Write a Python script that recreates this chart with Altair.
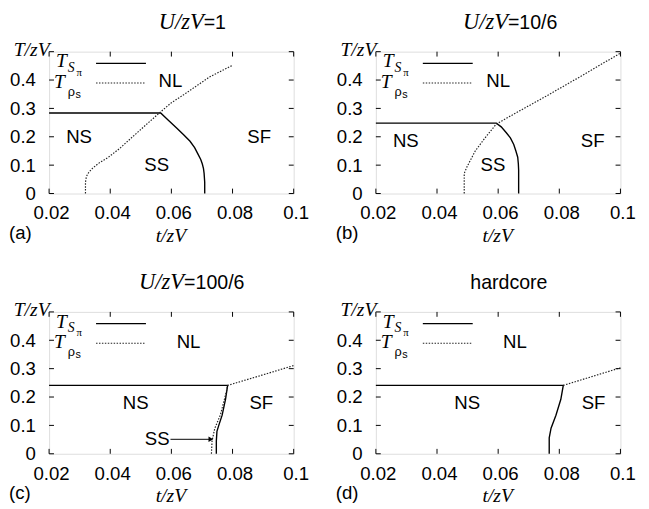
import altair as alt
import pandas as pd

# ---------------- data ----------------
# panel (a) U/zV=1
a_solid_t = [0.020, 0.0565, 0.0590, 0.0618, 0.0640, 0.0661, 0.0676, 0.0687, 0.0696, 0.0701, 0.0705, 0.0707, 0.0709, 0.0709]
a_solid_T = [0.284, 0.284, 0.258, 0.230, 0.207, 0.184, 0.162, 0.139, 0.120, 0.105, 0.088, 0.071, 0.040, 0.000]
a_dot_t = [0.0319, 0.0319, 0.0322, 0.0330, 0.0341, 0.0360, 0.0394, 0.0430, 0.0469, 0.0522, 0.0565, 0.0600, 0.0640, 0.0725, 0.0800]
a_dot_T = [0.000, 0.040, 0.060, 0.075, 0.088, 0.105, 0.128, 0.158, 0.196, 0.247, 0.288, 0.320, 0.348, 0.411, 0.452]

# panel (b) U/zV=10/6
b_solid_t = [0.020, 0.0594, 0.0610, 0.0626, 0.0640, 0.0651, 0.0658, 0.0664, 0.0666, 0.0667, 0.0667]
b_solid_T = [0.248, 0.248, 0.235, 0.215, 0.196, 0.173, 0.150, 0.128, 0.105, 0.083, 0.000]
b_dot_t = [0.0489, 0.0489, 0.0498, 0.0525, 0.0557, 0.0594, 0.0653, 0.0760, 0.0867, 0.1000]
b_dot_T = [0.000, 0.071, 0.094, 0.150, 0.196, 0.245, 0.281, 0.345, 0.411, 0.495]

# panel (c) U/zV=100/6
c_solid_t = [0.020, 0.0784, 0.0777, 0.0766, 0.0755, 0.0749, 0.0747, 0.0747]
c_solid_T = [0.241, 0.241, 0.192, 0.136, 0.100, 0.079, 0.045, 0.000]
c_dot_t = [0.0731, 0.0733, 0.0742, 0.0760, 0.0779, 0.0784, 0.0896, 0.1000]
c_dot_T = [0.000, 0.045, 0.090, 0.136, 0.215, 0.241, 0.277, 0.311]

# panel (d) hardcore
d_solid_t = [0.020, 0.0813, 0.0805, 0.0789, 0.0773, 0.0767, 0.0767]
d_solid_T = [0.241, 0.241, 0.192, 0.136, 0.090, 0.056, 0.000]
d_dot_t = [0.0813, 0.1000]
d_dot_T = [0.241, 0.303]

# region labels
a_lab = ["NL", "NS", "SS", "SF"]; a_lab_t = [0.0597, 0.0298, 0.0552, 0.0887]; a_lab_T = [0.397, 0.199, 0.100, 0.199]
b_lab = ["NL", "NS", "SS", "SF"]; b_lab_t = [0.0600, 0.0298, 0.0583, 0.0909]; b_lab_T = [0.397, 0.184, 0.100, 0.184]
c_lab = ["NL", "NS", "SF"]; c_lab_t = [0.0656, 0.0483, 0.0894]; c_lab_T = [0.395, 0.178, 0.178]
d_lab = ["NL", "NS", "SF"]; d_lab_t = [0.0655, 0.0499, 0.0912]; d_lab_T = [0.395, 0.178, 0.178]

# SS arrow in panel (c)
c_arrow_t = [0.0597, 0.0729]
c_arrow_T = [0.051, 0.051]

x_ticks = [0.02, 0.04, 0.06, 0.08, 0.1]
y_ticks = [0.0, 0.1, 0.2, 0.3, 0.4, 0.5]
y_labels = [0.0, 0.1, 0.2, 0.3, 0.4]

W, H = 250, 145
SANS = "Liberation Sans"
SERIF = "Liberation Serif"
FS = 19
SF = 20  # serif italic size for axis titles / legend

xs = alt.Scale(domain=[0.02, 0.1], nice=False, zero=False)
ys = alt.Scale(domain=[0.0, 0.5], nice=False, zero=False)

xaxis = alt.Axis(values=x_ticks, format="~g", ticks=False, domain=False, grid=False,
                 labelFont=SANS, labelFontSize=FS, labelColor="black", labelPadding=11,
                 labelOffset=2, labelFlush=False, labelOverlap=False,
                 title="t/zV", titleFont=SERIF, titleFontStyle="italic", titleFontWeight="normal",
                 titleFontSize=SF, titleColor="black", titleX=124, titleY=43,
                 titleAlign="center", titleBaseline="middle")
yaxis = alt.Axis(values=y_labels, format="~g", ticks=False, domain=False, grid=False,
                 labelFont=SANS, labelFontSize=FS, labelColor="black", labelPadding=14,
                 labelFlush=False, labelOverlap=False,
                 title="T/zV", titleAngle=0, titleFont=SERIF, titleFontStyle="italic",
                 titleFontWeight="normal", titleFontSize=SF, titleColor="black",
                 titleX=0, titleY=4, titleAlign="right", titleBaseline="alphabetic")


def X(f):
    return alt.X(f, scale=xs, axis=xaxis)


def Y(f):
    return alt.Y(f, scale=ys, axis=yaxis)


def one():
    return pd.DataFrame({"k": [0]})


def panel(solid_t, solid_T, dot_t, dot_T, labs, lab_t, lab_T, title_parts, split, tag, arrow=None):
    solid = pd.DataFrame({"t": solid_t, "T": solid_T, "o": range(len(solid_t))})
    dot = pd.DataFrame({"t": dot_t, "T": dot_T, "o": range(len(dot_t))})
    labels = pd.DataFrame({"t": lab_t, "T": lab_T, "s": labs})

    solid_l = alt.Chart(solid).mark_line(color="black", strokeWidth=1.4).encode(
        x=X("t:Q"), y=Y("T:Q"), order="o:Q")
    dot_l = alt.Chart(dot).mark_line(color="#222222", strokeWidth=1.2, strokeDash=[1.5, 1.5]).encode(
        x=X("t:Q"), y=Y("T:Q"), order="o:Q")
    lab_l = alt.Chart(labels).mark_text(font=SANS, fontSize=FS, color="black",
                                        align="center", baseline="middle").encode(
        x=X("t:Q"), y=Y("T:Q"), text="s:N")

    xt = pd.DataFrame({"t": x_ticks})
    yt = pd.DataFrame({"T": y_ticks})
    tk = 5
    tick_layers = [
        alt.Chart(xt).mark_rule(color="black", strokeWidth=1).encode(
            x=X("t:Q"), y=alt.value(H), y2=alt.value(H - tk)),
        alt.Chart(xt).mark_rule(color="black", strokeWidth=1).encode(
            x=X("t:Q"), y=alt.value(0), y2=alt.value(tk)),
        alt.Chart(yt).mark_rule(color="black", strokeWidth=1).encode(
            y=Y("T:Q"), x=alt.value(0), x2=alt.value(tk)),
        alt.Chart(yt).mark_rule(color="black", strokeWidth=1).encode(
            y=Y("T:Q"), x=alt.value(W), x2=alt.value(W - tk)),
    ]

    def txt(s, x, y, font=SANS, size=FS, style="normal", align="left", baseline="alphabetic"):
        return alt.Chart(one()).mark_text(text=s, font=font, fontSize=size, fontStyle=style,
                                          color="black", align=align, baseline=baseline).encode(
            x=alt.value(x), y=alt.value(y))

    # legend
    leg = [
        txt("T", 7, 16, font=SERIF, size=SF, style="italic"),
        txt("S", 19, 21, font=SERIF, size=14, style="italic"),
        txt("π", 28, 25, font=SERIF, size=11),
        txt("T", 5, 37, font=SERIF, size=SF, style="italic"),
        txt("ρ", 19, 45, font=SANS, size=13),
        txt("s", 27, 47, font=SANS, size=11),
        alt.Chart(one()).mark_rule(color="black", strokeWidth=1.4).encode(
            x=alt.value(48), x2=alt.value(99), y=alt.value(12)),
        alt.Chart(one()).mark_rule(color="#222222", strokeWidth=1.2, strokeDash=[1.5, 1.5]).encode(
            x=alt.value(48), x2=alt.value(99), y=alt.value(32)),
    ]

    # panel title
    ty = -23.5
    if len(title_parts) == 2:
        ttl = [txt(title_parts[0], split, ty, font=SERIF, size=23, style="italic", align="right"),
               txt(title_parts[1], split, ty, font=SANS, size=20, align="left")]
    else:
        ttl = [txt(title_parts[0], split, ty, font=SANS, size=20, align="center")]

    tag_l = [txt(tag, -41, H + 40.5, font=SANS, align="left", baseline="middle")]

    layers = [solid_l, dot_l, lab_l] + tick_layers + leg + ttl + tag_l

    if arrow is not None:
        arr = pd.DataFrame({"t": arrow[0], "T": arrow[1]})
        layers.append(alt.Chart(arr).mark_line(color="black", strokeWidth=1).encode(
            x=X("t:Q"), y=Y("T:Q")))
        head = arr.iloc[[1]]
        layers.append(alt.Chart(head).mark_point(shape="triangle-right", filled=True, color="black",
                                                 size=30, opacity=1).encode(
            x=X("t:Q"), y=Y("T:Q")))
        layers.append(alt.Chart(pd.DataFrame({"t": [arrow[0][0] - 0.0003], "T": [arrow[1][0]],
                                              "s": ["SS"]})).mark_text(
            font=SANS, fontSize=FS, color="black", align="right", baseline="middle").encode(
            x=X("t:Q"), y=Y("T:Q"), text="s:N"))

    return alt.layer(*layers).properties(width=W, height=H)


pa = panel(a_solid_t, a_solid_T, a_dot_t, a_dot_T, a_lab, a_lab_t, a_lab_T,
           ["U/zV", "=1"], 158, "(a)")
pb = panel(b_solid_t, b_solid_T, b_dot_t, b_dot_T, b_lab, b_lab_t, b_lab_T,
           ["U/zV", "=10/6"], 135, "(b)")
pc = panel(c_solid_t, c_solid_T, c_dot_t, c_dot_T, c_lab, c_lab_t, c_lab_T,
           ["U/zV", "=100/6"], 138, "(c)", arrow=(c_arrow_t, c_arrow_T))
pd_ = panel(d_solid_t, d_solid_T, d_dot_t, d_dot_T, d_lab, d_lab_t, d_lab_T,
            ["hardcore"], 136, "(d)")

chart = alt.concat(pa, pb, pc, pd_, columns=2, spacing={"row": 121, "column": 84},
                   bounds="flush").configure_view(
    stroke="black", strokeWidth=1
).configure(background="white", padding={"left": 0, "top": -3, "right": 5, "bottom": 5})

chart.save("out.html", embed_options={"renderer": "svg", "actions": False})
